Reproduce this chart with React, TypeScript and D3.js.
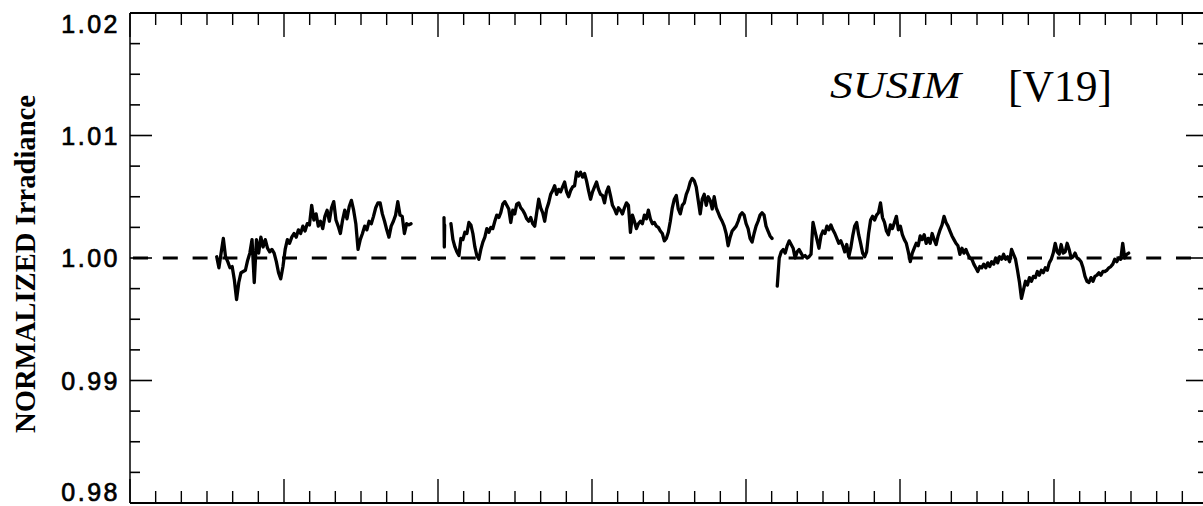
import React from 'react';
import * as d3 from 'd3';

// Time axis (decimal years) and irradiance axis limits
const yearStart = 1991;
const yearEnd = 1998;
const yMin = 0.98;
const yMax = 1.02;
const yMajorTicks = [0.98, 0.99, 1.0, 1.01, 1.02];
const yTickLabels = ['0.98', '0.99', '1.00', '1.01', '1.02'];
const referenceLevel = 1.0;

const titleInstrument = 'SUSIM';
const titleVersion = '[V19]';
const yAxisTitle = 'NORMALIZED Irradiance';

// Normalized irradiance, evenly sampled within each observing interval
const seg1Span = [1991.563, 1992.825];
const seg1Values = [
  1.0001, 0.9992, 1.0004, 1.0016, 1.0001, 0.9997, 0.9992, 0.9993, 0.9982, 0.9966,
  0.9980, 0.9988, 0.9989, 0.9990, 0.9998, 1.0004, 1.0015, 0.9980, 1.0015, 1.0004,
  1.0017, 1.0009, 1.0015, 1.0008, 1.0005, 1.0007, 1.0004, 0.9997, 0.9988, 0.9983,
  0.9993, 1.0007, 1.0015, 1.0012, 1.0017, 1.0020, 1.0017, 1.0023, 1.0020, 1.0026,
  1.0022, 1.0028, 1.0027, 1.0043, 1.0031, 1.0036, 1.0026, 1.0030, 1.0024, 1.0034,
  1.0039, 1.0030, 1.0041, 1.0046, 1.0031, 1.0026, 1.0020, 1.0031, 1.0039, 1.0032,
  1.0042, 1.0047, 1.0039, 1.0028, 1.0007, 1.0015, 1.0020, 1.0026, 1.0023, 1.0030,
  1.0028, 1.0034, 1.0041, 1.0045, 1.0045, 1.0036, 1.0030, 1.0023, 1.0017, 1.0026,
  1.0030, 1.0035, 1.0046, 1.0035, 1.0034, 1.0020, 1.0028, 1.0027, 1.0028,
];

const blipSpan = [1993.039, 1993.043];
const blipValues = [1.0033, 1.0009, 1.0027];

const seg2Span = [1993.084, 1995.169];
const seg2Values = [
  1.0028, 1.0015, 1.0009, 1.0005, 1.0002, 1.0016, 1.0015, 1.0021, 1.0020, 1.0029,
  1.0027, 1.0020, 1.0009, 1.0002, 0.9999, 1.0007, 1.0013, 1.0017,
  1.0024, 1.0021, 1.0025, 1.0024, 1.0030, 1.0035, 1.0033, 1.0037, 1.0044, 1.0046,
  1.0043, 1.0040, 1.0029, 1.0039, 1.0036, 1.0044, 1.0045, 1.0041, 1.0039, 1.0036,
  1.0032, 1.0030, 1.0033, 1.0028, 1.0026, 1.0037, 1.0048, 1.0041, 1.0037, 1.0030,
  1.0040, 1.0045, 1.0052, 1.0055, 1.0059, 1.0052, 1.0056, 1.0054, 1.0058, 1.0062,
  1.0054, 1.0050, 1.0055, 1.0058, 1.0059, 1.0070, 1.0067, 1.0070, 1.0066, 1.0069,
  1.0063, 1.0055, 1.0048, 1.0054, 1.0058, 1.0062, 1.0056, 1.0052,
  1.0051, 1.0045, 1.0054, 1.0058, 1.0051, 1.0043, 1.0040, 1.0036, 1.0041, 1.0039,
  1.0036, 1.0041, 1.0045, 1.0043, 1.0021, 1.0035, 1.0030, 1.0024, 1.0028, 1.0030,
  1.0028, 1.0035, 1.0032, 1.0039, 1.0032, 1.0028, 1.0029, 1.0026, 1.0025, 1.0022,
  1.0020, 1.0014, 1.0016, 1.0021, 1.0030, 1.0041, 1.0048, 1.0051, 1.0040, 1.0036,
  1.0043, 1.0045, 1.0052, 1.0056, 1.0062, 1.0065, 1.0063, 1.0058, 1.0047, 1.0036,
  1.0048, 1.0052, 1.0043, 1.0050, 1.0047, 1.0040, 1.0050, 1.0041, 1.0037, 1.0033,
  1.0030, 1.0026, 1.0020, 1.0010, 1.0017, 1.0022, 1.0024, 1.0026, 1.0030, 1.0035,
  1.0037, 1.0035, 1.0028, 1.0024, 1.0016, 1.0013, 1.0020, 1.0026, 1.0030, 1.0035,
  1.0037, 1.0035, 1.0026, 1.0022, 1.0018, 1.0016,
];

const seg3Span = [1995.203, 1997.485];
const seg3Values = [
  0.9977, 1.0000, 1.0005, 1.0007, 1.0004, 1.0010, 1.0014, 1.0011, 1.0008, 1.0000,
  1.0005, 1.0007, 1.0004, 1.0001, 1.0002, 1.0000, 1.0001, 1.0003, 1.0029, 1.0022,
  1.0015, 1.0008, 1.0018, 1.0022, 1.0020, 1.0026, 1.0023, 1.0027, 1.0023, 1.0020,
  1.0016, 1.0012, 1.0014, 1.0010, 1.0005, 1.0011, 1.0001, 1.0008, 1.0018, 1.0026,
  1.0029, 1.0019, 1.0012, 1.0004, 1.0001, 1.0005, 1.0020, 1.0031, 1.0034, 1.0031,
  1.0035, 1.0037, 1.0045, 1.0033, 1.0029, 1.0022, 1.0019, 1.0027, 1.0024, 1.0029,
  1.0034, 1.0023, 1.0026, 1.0019, 1.0015, 1.0012, 1.0005, 0.9997, 1.0004, 1.0008,
  1.0012, 1.0010, 1.0018, 1.0015, 1.0019, 1.0012, 1.0016, 1.0012, 1.0020, 1.0015,
  1.0011, 1.0018, 1.0023, 1.0027, 1.0034, 1.0029, 1.0026, 1.0022, 1.0018, 1.0015,
  1.0012, 1.0010, 1.0003, 1.0008, 1.0004, 1.0007, 1.0003, 1.0000, 0.9999, 0.9995,
  0.9992, 0.9989, 0.9993, 0.9992, 0.9995, 0.9992, 0.9996, 0.9993, 0.9997, 0.9995,
  1.0000, 0.9996, 1.0001, 0.9999, 1.0003, 0.9999, 1.0001, 0.9997, 1.0007, 1.0003,
  0.9999, 0.9990, 0.9980, 0.9967, 0.9974, 0.9981, 0.9978, 0.9984, 0.9981, 0.9985,
  0.9984, 0.9989, 0.9986, 0.9990, 0.9988, 0.9992, 0.9990, 0.9996, 0.9999, 1.0004,
  1.0012, 1.0005, 1.0003, 1.0011, 1.0004, 1.0005, 1.0012, 1.0007, 1.0000, 1.0001,
  1.0004, 1.0000, 0.9999, 0.9997, 0.9992, 0.9985, 0.9981, 0.9980, 0.9984, 0.9981,
  0.9985, 0.9986, 0.9988, 0.9986, 0.9989, 0.9989, 0.9990, 0.9992, 0.9993, 0.9995,
  0.9999, 0.9997, 1.0000, 0.9999, 1.0012, 1.0000, 1.0003, 1.0004,
];

const segments = [
  { span: seg1Span, values: seg1Values },
  { span: blipSpan, values: blipValues },
  { span: seg2Span, values: seg2Values },
  { span: seg3Span, values: seg3Values },
];

const W = 1203;
const H = 506;
const frame = { left: 130, top: 13, right: 1208, bottom: 503 };

export default function App() {
  const x = d3.scaleLinear().domain([yearStart, yearEnd]).range([frame.left, frame.right]);
  const y = d3.scaleLinear().domain([yMin, yMax]).range([frame.bottom, frame.top]);

  const line = d3
    .line<[number, number]>()
    .x((d) => x(d[0]))
    .y((d) => y(d[1]));

  const paths = segments.map((s) => {
    const n = s.values.length;
    const step = (s.span[1] - s.span[0]) / (n - 1);
    const pts: [number, number][] = s.values.map((v, i) => [s.span[0] + i * step, v]);
    return line(pts) || '';
  });

  // x ticks every two months, long ticks at whole years
  const xTicks = d3.range(0, (yearEnd - yearStart) * 6 + 1).map((i) => ({
    t: yearStart + i / 6,
    major: i % 6 === 0,
  }));
  // y ticks every 0.0025, long ticks every 0.01
  const yTicks = d3.range(0, 17).map((i) => ({
    v: yMin + i * 0.0025,
    major: i % 4 === 0,
  }));

  const sans = '"Liberation Sans", Arial, Helvetica, sans-serif';
  const serif = '"Liberation Serif", "Times New Roman", serif';

  return (
    <svg
      width={W}
      height={H}
      viewBox={`0 0 ${W} ${H}`}
      style={{ position: 'absolute', left: 0, top: 0, background: '#fff' }}
    >
      <rect x={0} y={0} width={W} height={H} fill="#fff" />

      {/* frame */}
      <line x1={frame.left} x2={frame.right} y1={frame.top} y2={frame.top} stroke="#000" strokeWidth={2} />
      <line x1={frame.left} x2={frame.right} y1={frame.bottom} y2={frame.bottom} stroke="#000" strokeWidth={2} />
      <line x1={frame.left} x2={frame.left} y1={frame.top} y2={frame.bottom} stroke="#000" strokeWidth={1.5} />
      <line x1={frame.right} x2={frame.right} y1={frame.top} y2={frame.bottom} stroke="#000" strokeWidth={1.5} />

      {/* x ticks, top and bottom */}
      {xTicks.map((d, i) => {
        const px = x(d.t);
        const len = d.major ? 24 : 12;
        return (
          <g key={'xt' + i} stroke="#000" strokeWidth={1.4}>
            <line x1={px} x2={px} y1={frame.top} y2={frame.top + len} />
            <line x1={px} x2={px} y1={frame.bottom} y2={frame.bottom - len} />
          </g>
        );
      })}

      {/* y ticks, left and right */}
      {yTicks.map((d, i) => {
        const py = y(d.v);
        const len = d.major ? 22 : 10;
        return (
          <g key={'yt' + i} stroke="#000" strokeWidth={1.6}>
            <line x1={frame.left} x2={frame.left + len} y1={py} y2={py} />
            <line x1={frame.right} x2={frame.right - len} y1={py} y2={py} />
          </g>
        );
      })}

      {/* y tick labels */}
      {yMajorTicks.map((v, i) => {
        const cy = Math.max(frame.top + 11, Math.min(frame.bottom - 11, y(v)));
        return (
          <text
            key={'yl' + i}
            x={120}
            y={cy + 9}
            textAnchor="end"
            fontFamily={sans}
            fontSize={25}
            letterSpacing={2.5}
            stroke="#000"
            strokeWidth={0.7}
            fill="#000"
          >
            {yTickLabels[i]}
          </text>
        );
      })}

      {/* y axis title */}
      <text
        transform={`translate(35, ${(95 + 433) / 2}) rotate(-90)`}
        textAnchor="middle"
        fontFamily={serif}
        fontWeight="bold"
        fontSize={30}
        textLength={338}
        lengthAdjust="spacingAndGlyphs"
        fill="#000"
      >
        {yAxisTitle}
      </text>

      {/* reference level */}
      <line
        x1={frame.left}
        x2={frame.right}
        y1={y(referenceLevel)}
        y2={y(referenceLevel)}
        stroke="#000"
        strokeWidth={3}
        strokeDasharray="15 14.8"
        strokeDashoffset={-3}
      />

      {/* irradiance series */}
      {paths.map((p, i) => (
        <path
          key={'s' + i}
          d={p}
          fill="none"
          stroke="#000"
          strokeWidth={3.3}
          strokeLinejoin="round"
          strokeLinecap="round"
        />
      ))}

      {/* instrument label */}
      <text
        x={830}
        y={98}
        fontFamily={serif}
        fontStyle="italic"
        fontSize={37}
        textLength={131}
        lengthAdjust="spacingAndGlyphs"
        fill="#000"
      >
        {titleInstrument}
      </text>
      <text
        x={1008}
        y={101}
        fontFamily={serif}
        fontSize={44}
        textLength={104}
        lengthAdjust="spacingAndGlyphs"
        fill="#000"
      >
        {titleVersion}
      </text>
    </svg>
  );
}
